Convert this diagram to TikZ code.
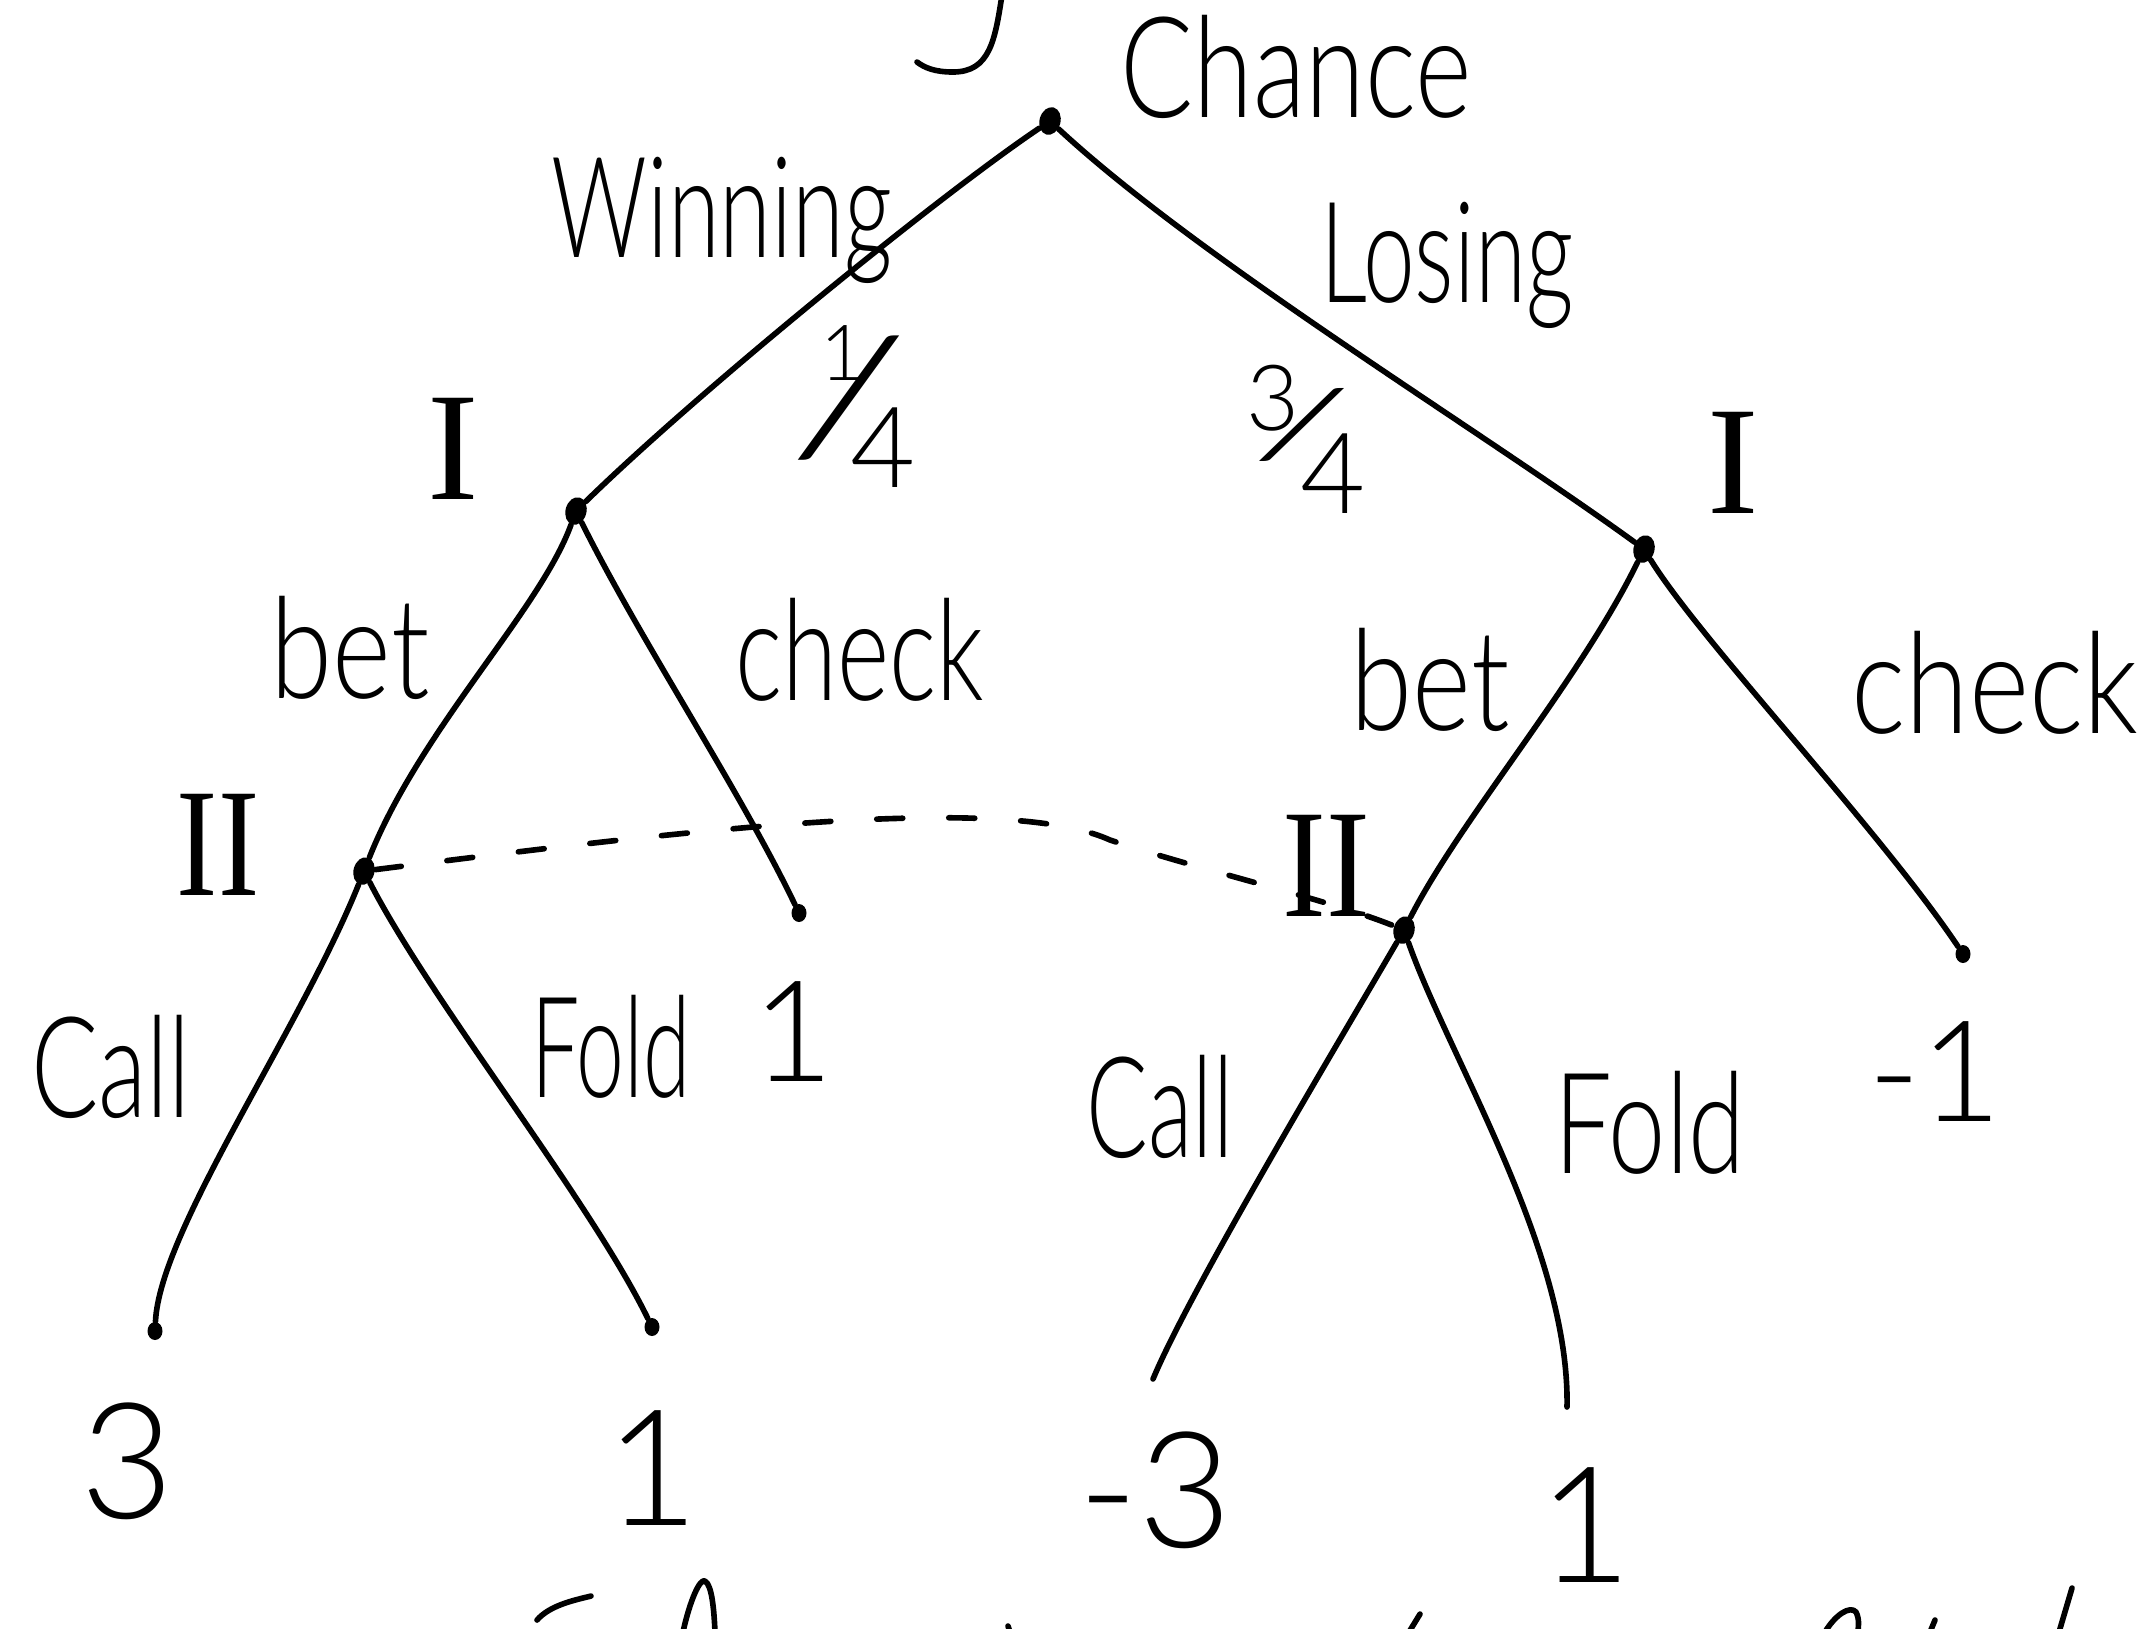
\documentclass[tikz,border=0pt]{standalone}
\usepackage{fontspec}
\usepackage{graphicx}
\IfFontExistsTF{Lato Light}{\setmainfont{Lato Light}}{\setmainfont{Lato}}
\newfontfamily\romfont{Liberation Serif}
\usetikzlibrary{shapes.geometric}

% narrow handwriting-like text
\newcommand\hw[2][0.72]{\scalebox{#1}[1]{#2}}
% a size switch
\newcommand\fsz[1]{\fontsize{#1}{#1}\selectfont}

\tikzset{
  ink/.style={line width=1.6pt, line cap=round, line join=round},
  dot/.style={ellipse, fill, inner sep=0pt, minimum width=2.1mm, minimum height=2.8mm, rotate=-15},
  leaf/.style={ellipse, fill, inner sep=0pt, minimum width=1.5mm, minimum height=1.8mm},
  word/.style={inner sep=0pt, anchor=base, font=\fontsize{40}{48}\selectfont},
  val/.style={inner sep=0pt, font=\fontsize{46}{54}\selectfont},
  roman/.style={inner sep=0pt, font=\romfont\fontsize{44}{50}\selectfont},
  frac/.style={inner sep=0pt, anchor=base west},
  infoset/.style={ink, dash pattern=on 2.6mm off 4.6mm},
}

\begin{document}
\begin{tikzpicture}[x=0.1mm, y=-0.1mm]
\useasboundingbox (0,0) rectangle (2152,1628);

% decision and chance nodes
\node[dot]  (root)  at (1050,121) {};
\node[dot]  (pIw)   at (576,511)  {};
\node[dot]  (pIl)   at (1644,549) {};
\node[dot]  (pIIw)  at (364,871)  {};
\node[leaf] (chkW)  at (799,913)  {};
\node[dot]  (pIIl)  at (1404,930) {};
\node[leaf] (chkL)  at (1963,954) {};
\node[leaf] (callW) at (155,1331) {};
\node[leaf] (foldW) at (652,1327) {};
\coordinate (callL) at (1153,1379);
\coordinate (foldL) at (1567,1407);

% branches
\draw[ink] (root) .. controls (940,195) and (700,390) .. (pIw);
\draw[ink] (root) .. controls (1200,260) and (1480,430) .. (pIl);
\draw[ink] (pIw) .. controls (540,610) and (420,730) .. (pIIw);
\draw[ink] (pIw) .. controls (640,640) and (740,790) .. (chkW);
\draw[ink] (pIl) .. controls (1580,680) and (1460,820) .. (pIIl);
\draw[ink] (pIl) .. controls (1700,640) and (1880,830) .. (chkL);
\draw[ink] (pIIw) .. controls (300,1030) and (160,1230) .. (callW);
\draw[ink] (pIIw) .. controls (430,1000) and (590,1200) .. (foldW);
\draw[ink] (pIIl) .. controls (1340,1040) and (1190,1290) .. (callL);
\draw[ink] (pIIl) .. controls (1450,1060) and (1570,1250) .. (foldL);

% information set of player II
\draw[infoset] (pIIw) .. controls (650,835) and (1000,790) .. (1110,840)
               .. controls (1200,870) and (1330,900) .. (pIIl);

% labels
\node[word] (lChance)  at (1296,117) {\hw[0.77]{Chance}};
\node[word] (lWin)     at (722,257)  {\hw[0.67]{Winning}};
\node[word] (lLose)    at (1447,302) {\hw[0.66]{Losing}};
\node[word] (lBetW)    at (350,698)  {\hw[0.8]{bet}};
\node[word] (lChkW)    at (860,700)  {\hw[0.71]{check}};
\node[word] (lBetL)    at (1430,730) {\hw[0.8]{bet}};
\node[word] (lChkL)    at (1995,733) {\hw[0.82]{check}};
\node[word] (lCallW)   at (111,1117) {\hw[0.71]{Call}};
\node[word] (lFoldW)   at (611,1097) {\hw[0.61]{Fold}};
\node[word] (lCallL)   at (1160,1157){\hw[0.65]{Call}};
\node[word] (lFoldL)   at (1650,1173){\hw[0.73]{Fold}};

% players
\node[roman] (lIw)  at (453,449)  {I};
\node[roman] (lIl)  at (1733,463) {I};
\node[roman] (lIIw) at (218,845)  {\hw[0.8]{II}};
\node[roman] (lIIl) at (1326,866) {\hw[0.85]{II}};

% probabilities, written as slanted fractions
\node[frac] (qWin) at (820,487)
  {\raisebox{30.4pt}{\fsz{22}1}\kern-22.3pt\raisebox{9.5pt}{\scalebox{1.75}[1]{\fsz{46}/}}\kern-17pt{\fsz{32}4}};
\node[frac] (qLose) at (1246,513)
  {\raisebox{23.6pt}{\fsz{26}3}\kern-14pt\raisebox{15.8pt}{\scalebox{2.5}[1]{\fsz{27}/}}\kern-15pt{\fsz{32}4}};

% payoffs
\node[val, font=\fontsize{40}{46}\selectfont] (vChkW) at (793,1032) {1};
\node[val, font=\fontsize{40}{46}\selectfont] (vChkL) at (1935,1072) {-1};
\node[val] (vCallW) at (127,1461)  {3};
\node[val] (vFoldW) at (652,1468)  {1};
\node[val] (vCallL) at (1155,1490) {-3};
\node[val] (vFoldL) at (1585,1525) {1};

% pen strokes running off the sheet
\draw[ink] (1002,-5) .. controls (995,40) and (990,72) .. (953,72)
           .. controls (935,72) and (925,68) .. (917,62);
\draw[ink] (537,1620) .. controls (550,1605) and (575,1600) .. (591,1596);
\draw[ink] (683,1632) .. controls (690,1600) and (700,1578) .. (705,1581)
           .. controls (712,1585) and (714,1610) .. (715,1632);
\draw[ink] (1008,1626) -- (1010,1632);
\draw[ink] (1409,1632) -- (1420,1614);
\draw[ink] (1825,1632) .. controls (1835,1615) and (1850,1605) .. (1856,1612)
           .. controls (1860,1620) and (1858,1628) .. (1858,1632);
\draw[ink] (1930,1632) -- (1935,1620);
\draw[ink] (2059,1632) -- (2072,1588);
\end{tikzpicture}
\end{document}
